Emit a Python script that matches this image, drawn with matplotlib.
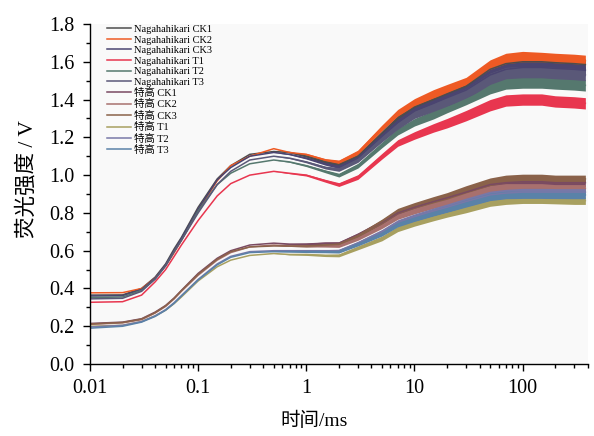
import matplotlib
matplotlib.use("Agg")
import matplotlib.pyplot as plt
from matplotlib.font_manager import FontProperties
from matplotlib.ticker import MultipleLocator, LogLocator, FuncFormatter, NullFormatter
import numpy as np

# 时间点 (ms)
t = [0.01, 0.02, 0.03, 0.04, 0.05, 0.06, 0.07, 0.1, 0.15, 0.2, 0.3, 0.5, 0.7, 1,
     1.5, 2, 3, 5, 7, 10, 15, 20, 30, 50, 70, 100, 150, 200, 300, 380]

# Nagahahikari 荧光强度 (V)
naga_ck1 = [0.365, 0.366, 0.40, 0.46, 0.53, 0.61, 0.67, 0.83, 0.98, 1.05, 1.11, 1.125, 1.12, 1.10,
            1.07, 1.055, 1.10, 1.22, 1.30, 1.36, 1.40, 1.43, 1.47, 1.56, 1.59, 1.60, 1.60, 1.595, 1.59, 1.585]
naga_ck2 = [0.377, 0.378, 0.40, 0.455, 0.52, 0.59, 0.655, 0.81, 0.97, 1.05, 1.10, 1.14, 1.12, 1.11,
            1.08, 1.07, 1.12, 1.25, 1.33, 1.385, 1.43, 1.455, 1.49, 1.58, 1.615, 1.625, 1.62, 1.615, 1.61, 1.605]
naga_ck3 = [0.36, 0.362, 0.395, 0.455, 0.525, 0.60, 0.665, 0.82, 0.975, 1.04, 1.10, 1.12, 1.11, 1.09,
            1.06, 1.045, 1.09, 1.21, 1.28, 1.34, 1.38, 1.41, 1.45, 1.53, 1.56, 1.57, 1.57, 1.565, 1.56, 1.555]
naga_t1 = [0.327, 0.33, 0.365, 0.435, 0.50, 0.57, 0.63, 0.76, 0.89, 0.955, 1.00, 1.02, 1.01, 1.00,
           0.97, 0.95, 0.99, 1.10, 1.17, 1.21, 1.25, 1.275, 1.315, 1.37, 1.395, 1.40, 1.40, 1.39, 1.385, 1.38]
naga_t2 = [0.352, 0.355, 0.39, 0.45, 0.52, 0.595, 0.655, 0.81, 0.95, 1.01, 1.06, 1.08, 1.07, 1.05,
           1.02, 1.00, 1.05, 1.16, 1.23, 1.28, 1.32, 1.355, 1.40, 1.46, 1.485, 1.49, 1.49, 1.485, 1.48, 1.475]
naga_t3 = [0.345, 0.348, 0.385, 0.45, 0.52, 0.595, 0.655, 0.80, 0.95, 1.02, 1.08, 1.10, 1.09, 1.07,
           1.04, 1.03, 1.08, 1.19, 1.26, 1.32, 1.36, 1.39, 1.43, 1.51, 1.54, 1.545, 1.545, 1.54, 1.535, 1.53]

# 特高 荧光强度 (V)
tg_ck1 = [0.215, 0.222, 0.24, 0.275, 0.31, 0.35, 0.39, 0.48, 0.56, 0.60, 0.63, 0.64, 0.635, 0.635,
          0.64, 0.64, 0.685, 0.75, 0.80, 0.83, 0.86, 0.88, 0.91, 0.95, 0.96, 0.965, 0.965, 0.96, 0.96, 0.96]
tg_ck2 = [0.21, 0.218, 0.235, 0.27, 0.305, 0.345, 0.385, 0.47, 0.55, 0.59, 0.62, 0.63, 0.625, 0.625,
          0.625, 0.625, 0.665, 0.73, 0.78, 0.81, 0.84, 0.86, 0.89, 0.925, 0.935, 0.935, 0.935, 0.93, 0.93, 0.93]
tg_ck3 = [0.212, 0.22, 0.238, 0.272, 0.308, 0.348, 0.388, 0.475, 0.555, 0.595, 0.62, 0.625, 0.625, 0.625,
          0.63, 0.635, 0.68, 0.755, 0.81, 0.84, 0.87, 0.89, 0.925, 0.965, 0.98, 0.985, 0.985, 0.98, 0.98, 0.98]
tg_t1 = [0.20, 0.205, 0.225, 0.255, 0.285, 0.32, 0.355, 0.44, 0.515, 0.55, 0.575, 0.585, 0.58, 0.58,
         0.575, 0.575, 0.615, 0.665, 0.715, 0.745, 0.775, 0.795, 0.82, 0.855, 0.865, 0.87, 0.87, 0.868, 0.865, 0.865]
tg_t2 = [0.196, 0.205, 0.225, 0.255, 0.288, 0.325, 0.362, 0.448, 0.53, 0.57, 0.595, 0.60, 0.60, 0.60,
         0.60, 0.60, 0.64, 0.70, 0.75, 0.78, 0.81, 0.83, 0.86, 0.895, 0.905, 0.91, 0.91, 0.91, 0.91, 0.91]
tg_t3 = [0.19, 0.20, 0.222, 0.252, 0.285, 0.322, 0.36, 0.445, 0.525, 0.565, 0.59, 0.595, 0.595, 0.595,
         0.595, 0.595, 0.635, 0.69, 0.74, 0.77, 0.80, 0.82, 0.85, 0.885, 0.895, 0.895, 0.895, 0.895, 0.895, 0.895]

# 噪声带宽度 (V)
spread_naga = [0, 0, 0, 0, 0, 0, 0, 0, 0, 0, 0, 0, 0.005, 0.01,
               0.015, 0.02, 0.025, 0.03, 0.035, 0.04, 0.045, 0.05, 0.055, 0.06, 0.06, 0.06, 0.06, 0.06, 0.06, 0.06]
spread_tg = [0, 0, 0, 0, 0, 0, 0, 0, 0, 0, 0, 0, 0.005, 0.01,
             0.012, 0.015, 0.02, 0.025, 0.028, 0.03, 0.033, 0.035, 0.038, 0.04, 0.04, 0.04, 0.04, 0.04, 0.04, 0.04]

labels = ["Nagahahikari CK1", "Nagahahikari CK2", "Nagahahikari CK3",
          "Nagahahikari T1", "Nagahahikari T2", "Nagahahikari T3",
          "特高 CK1", "特高 CK2", "特高 CK3", "特高 T1", "特高 T2", "特高 T3"]
series = [naga_ck1, naga_ck2, naga_ck3, naga_t1, naga_t2, naga_t3,
          tg_ck1, tg_ck2, tg_ck3, tg_t1, tg_t2, tg_t3]
colors = ["#4d4d4d", "#ee5a24", "#4a4470", "#e8364f", "#55786e", "#5a5878",
          "#7a4a62", "#a8706e", "#8a624a", "#a8a060", "#7878a8", "#5a82a8"]

serif = "Liberation Serif"
cjk = "Noto Sans CJK SC"
plt.rcParams["font.family"] = [serif, cjk]

fig = plt.figure(figsize=(5.94, 4.36), dpi=100)
ax = fig.add_axes([0.1515, 0.165, 0.838, 0.78])
ax.set_facecolor("#f9f9f9")

tt = np.array(t)
for i, (y, lab, c) in enumerate(zip(series, labels, colors)):
    y = np.array(y)
    s = np.array(spread_naga if i < 6 else spread_tg) / 2
    ax.fill_between(tt, y - s, y + s, color=c, linewidth=0)
    ax.plot(tt, y, color=c, lw=1.1, label=lab)

ax.set_xscale("log")
ax.set_xlim(0.01, 400)
ax.set_ylim(0, 1.8)

for sp in ["top", "right"]:
    ax.spines[sp].set_visible(False)
for sp in ["left", "bottom"]:
    ax.spines[sp].set_linewidth(1.0)

ax.yaxis.set_major_locator(MultipleLocator(0.2))
ax.yaxis.set_minor_locator(MultipleLocator(0.1))
ax.yaxis.set_major_formatter(FuncFormatter(lambda v, p: f"{v:.1f}"))
ax.xaxis.set_major_locator(LogLocator(base=10, numticks=10))
ax.xaxis.set_minor_locator(LogLocator(base=10, subs=np.arange(2, 10), numticks=20))
ax.xaxis.set_major_formatter(FuncFormatter(lambda v, p: f"{v:g}"))
ax.xaxis.set_minor_formatter(NullFormatter())
ax.tick_params(which="major", direction="out", length=5, width=1.0, labelsize=14.5, pad=6,
               labelfontfamily=serif)
ax.tick_params(which="minor", direction="out", length=3, width=1.0)

ax.set_xlabel("时间/ms", family=[serif, cjk], fontsize=14)
ax.set_ylabel("荧光强度 / V", family=[serif, cjk], fontsize=15.5)
ax.xaxis.set_label_coords(0.45, -0.14)
ax.yaxis.set_label_coords(-0.105, 0.545)

leg = ax.legend(loc="upper left", bbox_to_anchor=(0.025, 1.01), frameon=False,
                prop=FontProperties(family=[serif, cjk], size=7.5),
                handlelength=2.3, handletextpad=0.3, labelspacing=0.12, borderaxespad=0)

fig.savefig("out.png", dpi=100)
